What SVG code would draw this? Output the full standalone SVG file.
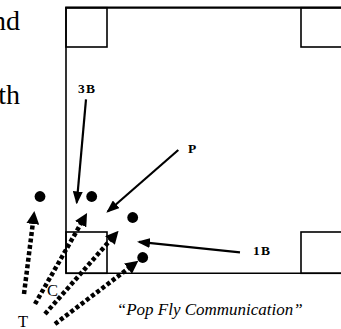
<svg xmlns="http://www.w3.org/2000/svg" width="341" height="329" viewBox="0 0 341 329">
  <style>
    .ln{fill:none;stroke:#000;stroke-width:1.6}
    .base{fill:none;stroke:#000;stroke-width:1.6}
    .dot{fill:#000}
    .arr{fill:none;stroke:#000;stroke-width:2.2;marker-end:url(#ah)}
    .dash{fill:none;stroke:#000;stroke-width:4.5;stroke-dasharray:4 2.5;marker-end:url(#dh)}
    .lab{font-family:"Liberation Serif","Times New Roman",serif;font-weight:bold;font-size:13.5px;letter-spacing:1.2px;fill:#000}
    .big{font-family:"Liberation Serif","Times New Roman",serif;font-size:28px;fill:#000}
    .reg{font-family:"Liberation Serif","Times New Roman",serif;font-size:16.5px;fill:#000}
    .cap{font-family:"Liberation Serif","Times New Roman",serif;font-style:italic;font-size:17px;fill:#000}
  </style>
  <defs>
    <marker id="ah" markerUnits="userSpaceOnUse" markerWidth="13" markerHeight="10" refX="11" refY="5" orient="auto">
      <path d="M0,0 L13,5 L0,10 z" fill="#000"/>
    </marker>
    <marker id="dh" markerUnits="userSpaceOnUse" markerWidth="13" markerHeight="13" refX="2" refY="6.5" orient="auto">
      <path d="M0,0 L13,6.5 L0,13 z" fill="#000"/>
    </marker>
  </defs>

  <g id="page-text">
    <text class="big" x="20" y="30" text-anchor="end">nd</text>
    <text class="big" x="20" y="104" text-anchor="end">th</text>
  </g>

  <g id="field">
    <path class="ln" d="M66,273.3 L66,7.7"/>
    <path fill="none" stroke="#000" stroke-width="2.2" d="M65.2,7.7 L341,7.7"/>
    <path class="ln" d="M66,273.3 L341,273.3"/>
  </g>
  <g id="third-base"><rect class="base" x="66" y="7.7" width="41" height="39.3"/></g>
  <g id="second-base"><rect class="base" x="301" y="7.7" width="42" height="39.3"/></g>
  <g id="home-plate"><rect class="base" x="66" y="232" width="41" height="41.3"/></g>
  <g id="first-base"><rect class="base" x="301" y="232" width="42" height="41.3"/></g>

  <g id="players">
    <circle class="dot" cx="40" cy="196.5" r="5.4"/>
    <circle class="dot" cx="91.7" cy="196.5" r="5.4"/>
    <circle class="dot" cx="132.7" cy="217.5" r="5.4"/>
    <circle class="dot" cx="142.7" cy="257.5" r="5.4"/>
  </g>

  <g id="labels">
    <text class="lab" x="78" y="93">3B</text>
    <text class="lab" x="188" y="152.5">P</text>
    <text class="lab" x="253" y="255">1B</text>
    <text class="reg" x="47" y="296">C</text>
    <text class="reg" x="18" y="326.5">T</text>
    <text class="cap" x="116.7" y="315">“Pop Fly Communication”</text>
  </g>

  <g id="connectors">
    <path class="arr" d="M86,99.3 L76.8,202.5"/>
    <path class="arr" d="M178.3,150 L107.8,211.5"/>
    <path class="arr" d="M240,252.3 L139,241.9"/>
    <path class="dash" d="M24,294 L33,222"/>
    <path class="dash" d="M35,304 L81.6,222.5"/>
    <path class="dash" d="M45,314 L111.3,239"/>
    <path class="dash" d="M55,324 L129.6,267.5"/>
  </g>
</svg>
